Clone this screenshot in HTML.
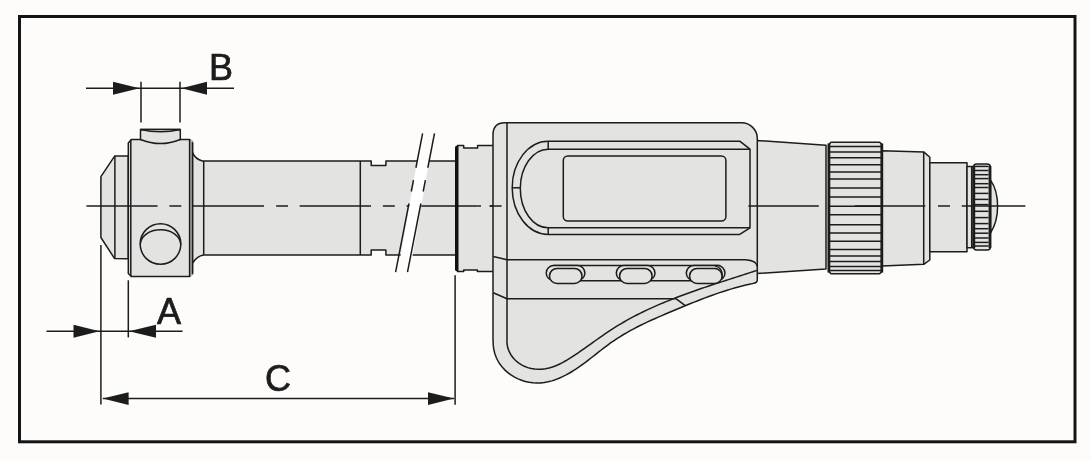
<!DOCTYPE html>
<html><head><meta charset="utf-8"><style>html,body{margin:0;padding:0;background:#fdfcfa;overflow:hidden}svg{display:block}</style></head>
<body><svg width="1091" height="460" viewBox="0 0 1091 460">
<rect x="0" y="0" width="1091" height="460" fill="#fdfcfa"/>
<rect x="19.5" y="16.5" width="1055.5" height="425.3" fill="none" stroke="#141414" stroke-width="3"/>
<g stroke="#1c1c1c" stroke-width="1.5" fill="none" stroke-linejoin="round">
<!-- dimension B -->
<line x1="86" y1="88.3" x2="234" y2="88.3"/>
<line x1="141" y1="81.7" x2="141" y2="122.4"/>
<line x1="180" y1="81.7" x2="180" y2="122.4"/>
<!-- dimension A -->
<line x1="46.5" y1="331.3" x2="182.6" y2="331.3"/>
<line x1="100.9" y1="245" x2="100.9" y2="404.6"/>
<line x1="128.3" y1="280.3" x2="128.3" y2="337.4"/>
<!-- dimension C -->
<line x1="102.8" y1="398.6" x2="454" y2="398.6"/>
<line x1="455.1" y1="275.2" x2="455.1" y2="404.8"/>
</g>
<g stroke="none">
<path d="M139.5,88.3 L113,81.8 L113,94.8 Z" fill="#1c1c1c"/><path d="M181.5,88.3 L207,81.8 L207,94.8 Z" fill="#1c1c1c"/>
<path d="M99.5,331.3 L73.5,324.8 L73.5,337.8 Z" fill="#1c1c1c"/><path d="M129,331.3 L156,324.8 L156,337.8 Z" fill="#1c1c1c"/>
<path d="M102.8,398.6 L128.6,392.3 L128.6,404.90000000000003 Z" fill="#1c1c1c"/><path d="M454,398.6 L428,392.3 L428,404.90000000000003 Z" fill="#1c1c1c"/>
</g>
<g font-family="Liberation Sans, sans-serif" fill="#1c1c1c" stroke="#1c1c1c" stroke-width="0.7" font-size="36" style="filter:grayscale(1)">
<text x="209" y="80">B</text>
<text x="157" y="323.5">A</text>
<text x="265" y="391">C</text>
</g>

<g stroke="#1c1c1c" stroke-width="1.5" fill="#e3e3e1" stroke-linejoin="round">
<!-- shaft -->
<path d="M192.5,152.6 A15,15 0 0 0 202.4,161 L371.2,161 L371.2,165.6 L385.9,165.6 L385.9,161 L455,161 L455,254.9 L385.9,254.9 L385.9,250 L371.2,250 L371.2,254.9 L203.7,254.9 C198.5,255.5 195,259 192.5,263 Z" stroke="none"/>
<path d="M192.5,152.6 A15,15 0 0 0 202.4,161 L371.2,161 L371.2,165.6 L385.9,165.6 L385.9,161 L455,161" fill="none"/>
<path d="M192.5,263 C195,259 198.5,255.7 203.7,254.9 L371.2,254.9 L371.2,250 L385.9,250 L385.9,254.9 L455,254.9" fill="none"/>
<line x1="203.7" y1="161" x2="203.7" y2="254.9"/>
<line x1="360.3" y1="161" x2="360.3" y2="254.9"/>
<!-- left cap -->
<path d="M100.9,176.6 L114.8,155.9 L128.3,155.9 L128.3,258.7 L114.6,258.6 L100.9,237.5 Z"/>
<line x1="114.9" y1="155.9" x2="114.9" y2="258.6"/>
<!-- ring -->
<path d="M128.3,143.1 L131.4,139.5 L189.6,139.5 L192.5,142.4 L192.5,273.8 L189.6,276.5 L131.3,276.5 L128.3,273.5 Z"/>
<rect x="189.6" y="140" width="2.9" height="136" fill="#b4b4b4" stroke="none"/>
<line x1="130.8" y1="139.5" x2="130.8" y2="276.5"/>
<line x1="189.6" y1="139.5" x2="189.6" y2="276.5"/>
<line x1="192.5" y1="142.4" x2="192.5" y2="273.8"/>
<!-- top button -->
<path d="M140.5,129.4 L180.3,129.4 L180.3,139.5 Q160.4,147.7 140.5,139.5 Z"/>
<path d="M140.5,129.4 Q160.4,134 180.3,129.4" fill="#fdfcfa"/><line x1="140.5" y1="129.4" x2="180.3" y2="129.4"/>
<!-- side button -->
<circle cx="160.5" cy="244" r="20.3"/>
<path d="M140.3,244.5 A20.2,14.8 0 0 1 180.7,244.5" fill="none"/>
</g>

<!-- center line left -->
<g stroke="#1c1c1c" stroke-width="1.5">
<line x1="86.4" y1="206" x2="157.5" y2="206"/>
<line x1="169.4" y1="206" x2="181.3" y2="206"/>
<line x1="192.5" y1="206" x2="264" y2="206"/>
<line x1="276.1" y1="206" x2="288" y2="206"/>
<line x1="299.7" y1="206" x2="371" y2="206"/>
<line x1="382.9" y1="206" x2="394.8" y2="206"/>
<line x1="406.5" y1="206" x2="477.8" y2="206"/>
<line x1="489.7" y1="206" x2="501.6" y2="206"/>
</g>

<!-- break -->
<path d="M417.3,160 L429.3,160 L412.5,256 L400.5,256 Z" fill="#ffffff"/>
<g stroke="#1c1c1c" stroke-width="1.5" stroke-dasharray="35 12.7 11.5 12.2 80">
<line x1="422.6" y1="133.4" x2="395.6" y2="272.2"/>
<line x1="434.5" y1="133.4" x2="407.5" y2="272.2"/>
</g>

<g stroke="#1c1c1c" stroke-width="1.5" fill="#e3e3e1" stroke-linejoin="round">
<!-- collar -->
<path d="M457,271.3 L457,145.4 L463.7,145.4 L463.7,148 L477.6,148 L477.6,145.4 L493,145.4 L493,271.6 L477.4,271.6 L477.4,269.9 L463.7,269.9 L463.7,271.6 Z" stroke="none"/>
<path d="M457,145.4 L463.7,145.4 L463.7,148 L477.6,148 L477.6,145.4 L493,145.4" fill="none"/>
<path d="M457,271.6 L463.7,271.6 L463.7,269.9 L477.4,269.9 L477.4,271.6 L493,271.6" fill="none"/>
<line x1="481" y1="206" x2="477.8" y2="206"/>
</g>
<g stroke="#1c1c1c" stroke-width="1.5">
<line x1="457" y1="206" x2="477.8" y2="206"/>
<line x1="489.7" y1="206" x2="501.6" y2="206"/>
</g>
<path d="M455,147.5 Q455,145.4 457.5,145.4 L458.5,145.4 L458.5,271.6 L457.5,271.6 Q455,271.6 455,269.3 Z" fill="#111"/>

<!-- sleeve -->
<g stroke="#1c1c1c" stroke-width="1.5" fill="#e3e3e1" stroke-linejoin="round">
<path d="M757,140.5 L826,145.2 L826,268.9 L757,273.6 Z"/>
<!-- body -->
<path d="M493,134.8 Q493,122.8 505,122.8 L741.5,122.8 A15.8,15.5 0 0 1 757.3,138.3 L757.3,279.4 Q757.3,283 753.4,283.3 L753.44,283.36 L749.61,284.18 L745.80,285.06 L742.02,286.00 L738.25,286.99 L734.50,288.03 L730.77,289.12 L727.05,290.25 L723.35,291.43 L719.67,292.66 L716.00,293.91 L712.34,295.21 L708.69,296.54 L705.05,297.89 L701.43,299.28 L697.81,300.69 L694.19,302.12 L690.59,303.57 L686.98,305.03 L683.39,306.51 L679.79,308.00 L676.20,309.50 L672.60,311.01 L669.01,312.52 L665.42,314.04 L661.84,315.57 L658.26,317.12 L654.70,318.70 L651.15,320.30 L647.62,321.93 L644.10,323.59 L640.61,325.29 L637.14,327.03 L633.70,328.82 L630.28,330.66 L626.90,332.55 L623.55,334.51 L620.24,336.52 L616.97,338.60 L613.74,340.76 L610.56,342.98 L607.41,345.28 L604.30,347.63 L601.21,350.01 L598.13,352.43 L595.06,354.86 L591.98,357.28 L588.89,359.69 L585.77,362.07 L582.63,364.40 L579.45,366.67 L576.21,368.88 L572.92,370.99 L569.57,373.01 L566.14,374.91 L562.64,376.67 L559.08,378.26 L555.46,379.67 L551.79,380.86 L548.07,381.81 L544.32,382.51 L540.53,382.91 L536.71,383.01 L532.88,382.78 L529.08,382.25 L525.31,381.41 L521.62,380.28 L518.03,378.85 L514.58,377.14 L511.28,375.15 L508.16,372.89 L505.26,370.37 L502.60,367.59 L500.22,364.56 L498.12,361.28 L496.36,357.77 L494.95,354.04 L493.92,350.07 L493.30,345.90 L493.12,341.51 L493,340 Z"/>
<path d="M507,122.8 L507,340 M757,270.2 L756.98,270.41 L753.53,271.53 L750.07,272.65 L746.60,273.76 L743.13,274.88 L739.65,275.99 L736.16,277.10 L732.67,278.22 L729.18,279.34 L725.69,280.46 L722.20,281.59 L718.70,282.72 L715.21,283.86 L711.71,285.02 L708.22,286.18 L704.73,287.35 L701.24,288.53 L697.76,289.73 L694.29,290.95 L690.82,292.18 L687.35,293.42 L683.90,294.69 L680.45,295.98 L677.01,297.28 L673.58,298.61 L670.16,299.96 L666.76,301.34 L663.36,302.74 L659.98,304.17 L656.62,305.62 L653.27,307.11 L649.93,308.63 L646.61,310.17 L643.31,311.75 L640.03,313.37 L636.76,315.02 L633.52,316.70 L630.29,318.43 L627.09,320.19 L623.91,321.99 L620.75,323.83 L617.62,325.72 L614.51,327.65 L611.42,329.62 L608.36,331.64 L605.32,333.69 L602.30,335.77 L599.29,337.88 L596.29,340.01 L593.29,342.14 L590.28,344.28 L587.28,346.42 L584.26,348.55 L581.23,350.67 L578.18,352.76 L575.11,354.83 L572.02,356.86 L568.89,358.85 L565.72,360.77 L562.51,362.60 L559.24,364.28 L555.91,365.77 L552.50,367.04 L549.01,368.05 L545.46,368.78 L541.88,369.20 L538.30,369.31 L534.73,369.09 L531.20,368.53 L527.74,367.60 L524.37,366.29 L521.15,364.61 L518.12,362.58 L515.33,360.20 L512.84,357.49 L510.70,354.47 L508.98,351.16 L507.73,347.58 L507.02,343.75 L506.90,339.70" fill="none"/>
<path d="M493.3,256.4 L507,259.8 L745.5,259.8 Q757,260.8 757,266.2" fill="none"/>
<path d="M493.3,292.8 L507,298.7 L675.9,298.7 L685.2,305.7" fill="none"/>
<!-- band -->
<path d="M553,265.5 L720,265.5 M560,280.8 L720,280.8" fill="none"/>
<path d="M553.6500000000001,265.5 L577.45,265.5 A7.449999999999989,7.449999999999989 0 0 1 577.45,280.4 L553.6500000000001,280.4 A7.449999999999989,7.449999999999989 0 0 1 553.6500000000001,265.5 Z" fill="#e3e3e1"/><path d="M557.05,268.4 L574.45,268.4 A7.550000000000011,7.550000000000011 0 0 1 574.45,283.5 L557.05,283.5 A7.550000000000011,7.550000000000011 0 0 1 557.05,268.4 Z" fill="#e3e3e1"/><path d="M623.75,265.5 L647.55,265.5 A7.449999999999989,7.449999999999989 0 0 1 647.55,280.4 L623.75,280.4 A7.449999999999989,7.449999999999989 0 0 1 623.75,265.5 Z" fill="#e3e3e1"/><path d="M627.1500000000001,268.4 L644.55,268.4 A7.550000000000011,7.550000000000011 0 0 1 644.55,283.5 L627.1500000000001,283.5 A7.550000000000011,7.550000000000011 0 0 1 627.1500000000001,268.4 Z" fill="#e3e3e1"/><path d="M693.75,265.5 L717.55,265.5 A7.449999999999989,7.449999999999989 0 0 1 717.55,280.4 L693.75,280.4 A7.449999999999989,7.449999999999989 0 0 1 693.75,265.5 Z" fill="#e3e3e1"/><path d="M697.1500000000001,268.4 L714.55,268.4 A7.550000000000011,7.550000000000011 0 0 1 714.55,283.5 L697.1500000000001,283.5 A7.550000000000011,7.550000000000011 0 0 1 697.1500000000001,268.4 Z" fill="#e3e3e1"/>
<path d="M715,266.3 C721,266.8 723.5,272 721.8,279.5" fill="none" stroke-width="1.2"/>
<!-- display frame -->
<path d="M548.2,141.2 L739.7,141.2 L750,149.2 L750,227.8 L739.7,234.4 L548.2,234.4 A36,46.6 0 0 1 512.2,187.8 A36,46.6 0 0 1 548.2,141.2 Z"/>
<path d="M750,149.2 L548.2,149.2 A28,39.3 0 0 0 520.3,188.5 A28,39.3 0 0 0 548.2,227.8 L750,227.8" fill="none"/>
<line x1="548.2" y1="141.2" x2="548.2" y2="149.2"/>
<line x1="548.2" y1="227.8" x2="548.2" y2="234.4"/>
<line x1="512.2" y1="187.8" x2="520.4" y2="187.8"/>
<rect x="563.3" y="156" width="162.6" height="65" rx="4.5"/>
<!-- knurl -->
<path d="M831,142.3 L879.7,142.3 L882,144.6 L882,271.4 L879.7,273.7 L831,273.7 L828.7,271.4 L828.7,144.6 Z"/>
<!-- thimble -->
<path d="M882,150.7 L923.7,151.9 L929.8,157.3 L929.8,260 L923.7,264.3 L882,266.1 Z"/>
<line x1="923.7" y1="151.9" x2="923.7" y2="264.3"/>
<path d="M929.8,162.8 L967,162.8 L967,251.7 L929.8,251.7 Z"/>
<path d="M967,166.4 L973.5,166.4 L973.5,247.8 L967,247.8 Z"/>
<line x1="971.7" y1="166.4" x2="971.7" y2="247.8"/>
<path d="M990.5,180.1 Q997.6,190 997.6,206.3 Q997.6,222 990.5,233 Z"/>
<rect x="973.6" y="164" width="16.7" height="86" rx="3"/>
</g>
<g stroke="#1c1c1c" stroke-width="1.5">
<line x1="829" y1="146.4" x2="882" y2="146.4"/><line x1="829" y1="152.1" x2="882" y2="152.1"/><line x1="829" y1="157.8" x2="882" y2="157.8"/><line x1="829" y1="164.8" x2="882" y2="164.8"/><line x1="829" y1="172.1" x2="882" y2="172.1"/><line x1="829" y1="179" x2="882" y2="179"/><line x1="829" y1="188" x2="882" y2="188"/><line x1="829" y1="196.9" x2="882" y2="196.9"/><line x1="829" y1="206.2" x2="882" y2="206.2"/><line x1="829" y1="214.8" x2="882" y2="214.8"/><line x1="829" y1="224.7" x2="882" y2="224.7"/><line x1="829" y1="233" x2="882" y2="233"/><line x1="829" y1="241.2" x2="882" y2="241.2"/><line x1="829" y1="249.6" x2="882" y2="249.6"/><line x1="829" y1="256" x2="882" y2="256"/><line x1="829" y1="261.6" x2="882" y2="261.6"/><line x1="829" y1="266.4" x2="882" y2="266.4"/><line x1="829" y1="270.4" x2="882" y2="270.4"/>
<line x1="975" y1="166.4" x2="988.5" y2="166.4"/><line x1="975" y1="170.5" x2="988.5" y2="170.5"/><line x1="975" y1="174.7" x2="988.5" y2="174.7"/><line x1="975" y1="178.6" x2="988.5" y2="178.6"/><line x1="975" y1="183.7" x2="988.5" y2="183.7"/><line x1="975" y1="187.5" x2="988.5" y2="187.5"/><line x1="975" y1="193.4" x2="988.5" y2="193.4"/><line x1="975" y1="199.4" x2="988.5" y2="199.4"/><line x1="975" y1="204.6" x2="988.5" y2="204.6"/><line x1="975" y1="211.3" x2="988.5" y2="211.3"/><line x1="975" y1="217.6" x2="988.5" y2="217.6"/><line x1="975" y1="223.6" x2="988.5" y2="223.6"/><line x1="975" y1="228.7" x2="988.5" y2="228.7"/><line x1="975" y1="233.2" x2="988.5" y2="233.2"/><line x1="975" y1="238" x2="988.5" y2="238"/><line x1="975" y1="242.4" x2="988.5" y2="242.4"/><line x1="975" y1="246" x2="988.5" y2="246"/>
<line x1="489.7" y1="206" x2="501.6" y2="206"/>
<line x1="748.4" y1="206" x2="818.8" y2="206"/>
<line x1="854.7" y1="206" x2="925.3" y2="206"/>
<line x1="938" y1="206" x2="950" y2="206"/>
<line x1="961.8" y1="206" x2="1025.4" y2="206"/>
<line x1="828.9" y1="143.5" x2="828.9" y2="272.5" stroke-width="2.8"/><line x1="881.8" y1="143.5" x2="881.8" y2="272.5" stroke-width="2.8"/>
<line x1="973.8" y1="166" x2="973.8" y2="248" stroke-width="2.8"/><line x1="990" y1="166" x2="990" y2="248" stroke-width="2.8"/>
</g>
</svg></body></html>
